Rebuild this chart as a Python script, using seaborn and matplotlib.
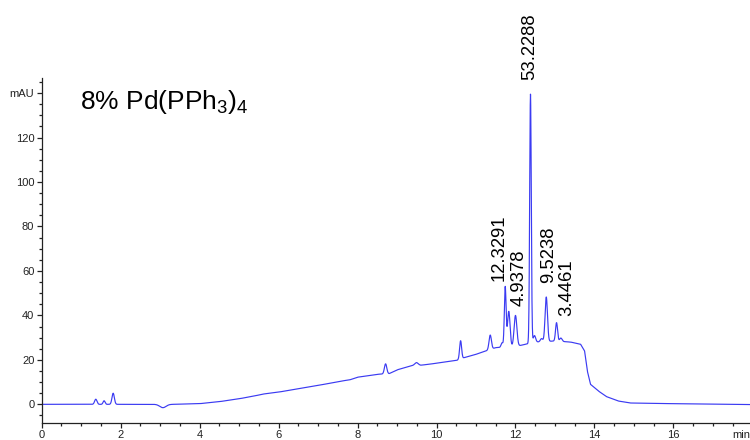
import numpy as np
import pandas as pd
import matplotlib
matplotlib.use("Agg")
import matplotlib.pyplot as plt
import seaborn as sns

# ---- data ----
baseline_t = [0.0, 1.2, 2.8, 3.3, 4.0, 4.5, 5.0, 5.4, 5.6, 6.0, 7.0, 7.6, 7.8, 8.0, 8.5,
              8.8, 9.0, 9.3, 9.5, 9.6, 9.8, 10.0, 10.5, 10.7, 11.0, 11.5, 12.0, 12.5,
              13.0, 13.4, 13.65, 13.75, 13.82, 13.9, 14.1, 14.3, 14.6, 14.9, 15.5, 16.5,
              17.94]
baseline_v = [0.0, 0.0, 0.0, 0.0, 0.3, 1.2, 2.5, 3.8, 4.6, 5.5, 8.5, 10.5, 11.0, 12.2, 13.5,
              13.8, 15.5, 17.0, 18.0, 17.6, 18.0, 18.5, 19.7, 21.0, 22.5, 25.5, 26.0, 28.0,
              28.5, 28.0, 27.0, 24.0, 15.0, 9.0, 6.0, 3.5, 1.5, 0.6, 0.4, 0.2, -0.1]

peak_t = [1.37, 1.58, 1.81, 3.07, 8.71, 9.49, 10.61, 11.36, 11.66, 11.74, 11.83, 12.00,
          12.38, 12.48, 12.66, 12.78, 13.04, 13.15]
peak_h = [2.3, 1.6, 5.0, -1.5, 4.5, 0.8, 8.2, 6.5, 2.0, 27.0, 16.0, 14.0,
          112.0, 3.0, 1.4, 20.0, 8.3, 1.5]
peak_w = [0.03, 0.025, 0.03, 0.08, 0.03, 0.04, 0.025, 0.03, 0.025, 0.022, 0.032, 0.035,
          0.02, 0.03, 0.03, 0.03, 0.025, 0.03]

label_texts = ["53.2288", "12.3291", "4.9378", "9.5238", "3.4461"]
label_x = [12.37, 11.59, 12.09, 12.84, 13.29]
label_y = [146.0, 55.6, 44.4, 54.7, 39.9]

x_ticks = [0, 2, 4, 6, 8, 10, 12, 14, 16]
y_ticks = [0, 20, 40, 60, 80, 100, 120, 140]
y_ticklabels = ["0", "20", "40", "60", "80", "100", "120", "mAU"]

# ---- build trace ----
t = np.arange(0, 17.94, 0.002)
sig = np.interp(t, baseline_t, baseline_v)
for c, h, w in zip(peak_t, peak_h, peak_w):
    sig = sig + h * np.exp(-0.5 * ((t - c) / w) ** 2)
df = pd.DataFrame({"time": t, "mAU": sig})

sns.set_style("ticks")
plt.rcParams["font.family"] = ["Liberation Sans", "DejaVu Sans"]
plt.rcParams["mathtext.fontset"] = "custom"
plt.rcParams["mathtext.rm"] = "Liberation Sans"
plt.rcParams["mathtext.it"] = "Liberation Sans"

fig = plt.figure(figsize=(7.5, 4.4), dpi=100)
ax = fig.add_axes([41.7 / 750, 1 - 423 / 440, 1 - 41.7 / 750, (423 - 78) / 440])
sns.lineplot(data=df, x="time", y="mAU", ax=ax, color="#3b3bf2", lw=0.85)

ax.set_xlim(0, 17.94)
ax.set_ylim(-8.4, 146.8)
sns.despine(ax=ax)
ax.set_xlabel("")
ax.set_ylabel("")
ax.set_xticks(x_ticks)
ax.set_xticks(np.arange(0, 18.0, 0.5), minor=True)
ax.set_yticks(y_ticks)
ax.set_yticklabels(y_ticklabels)
ax.set_yticks(np.arange(-5, 146, 5), minor=True)
ax.tick_params(axis="both", which="major", length=3.8, width=0.9, labelsize=8,
               color="#222222", labelcolor="#222222")
ax.tick_params(axis="x", which="major", pad=1.2)
ax.tick_params(axis="y", which="major", pad=1.5)
ax.tick_params(axis="both", which="minor", length=2.2, width=0.9, color="#222222")
for s in ["left", "bottom"]:
    ax.spines[s].set_color("#222222")
    ax.spines[s].set_linewidth(0.9)

ax.annotate("min", xy=(1.0, 0.0), xycoords="axes fraction", xytext=(0, -5.0),
            textcoords="offset points", ha="right", va="top", fontsize=8,
            color="#222222", annotation_clip=False)

for txt, lx, ly in zip(label_texts, label_x, label_y):
    ax.text(lx, ly, txt, rotation=90, ha="center", va="bottom", fontsize=13.3,
            color="black", clip_on=False)

fig.text(80 / 750, 1 - 109 / 440, r"8% Pd(PPh$_3$)$_4$", fontsize=19, ha="left",
         va="baseline", color="black")

fig.savefig("out.png", dpi=100)
